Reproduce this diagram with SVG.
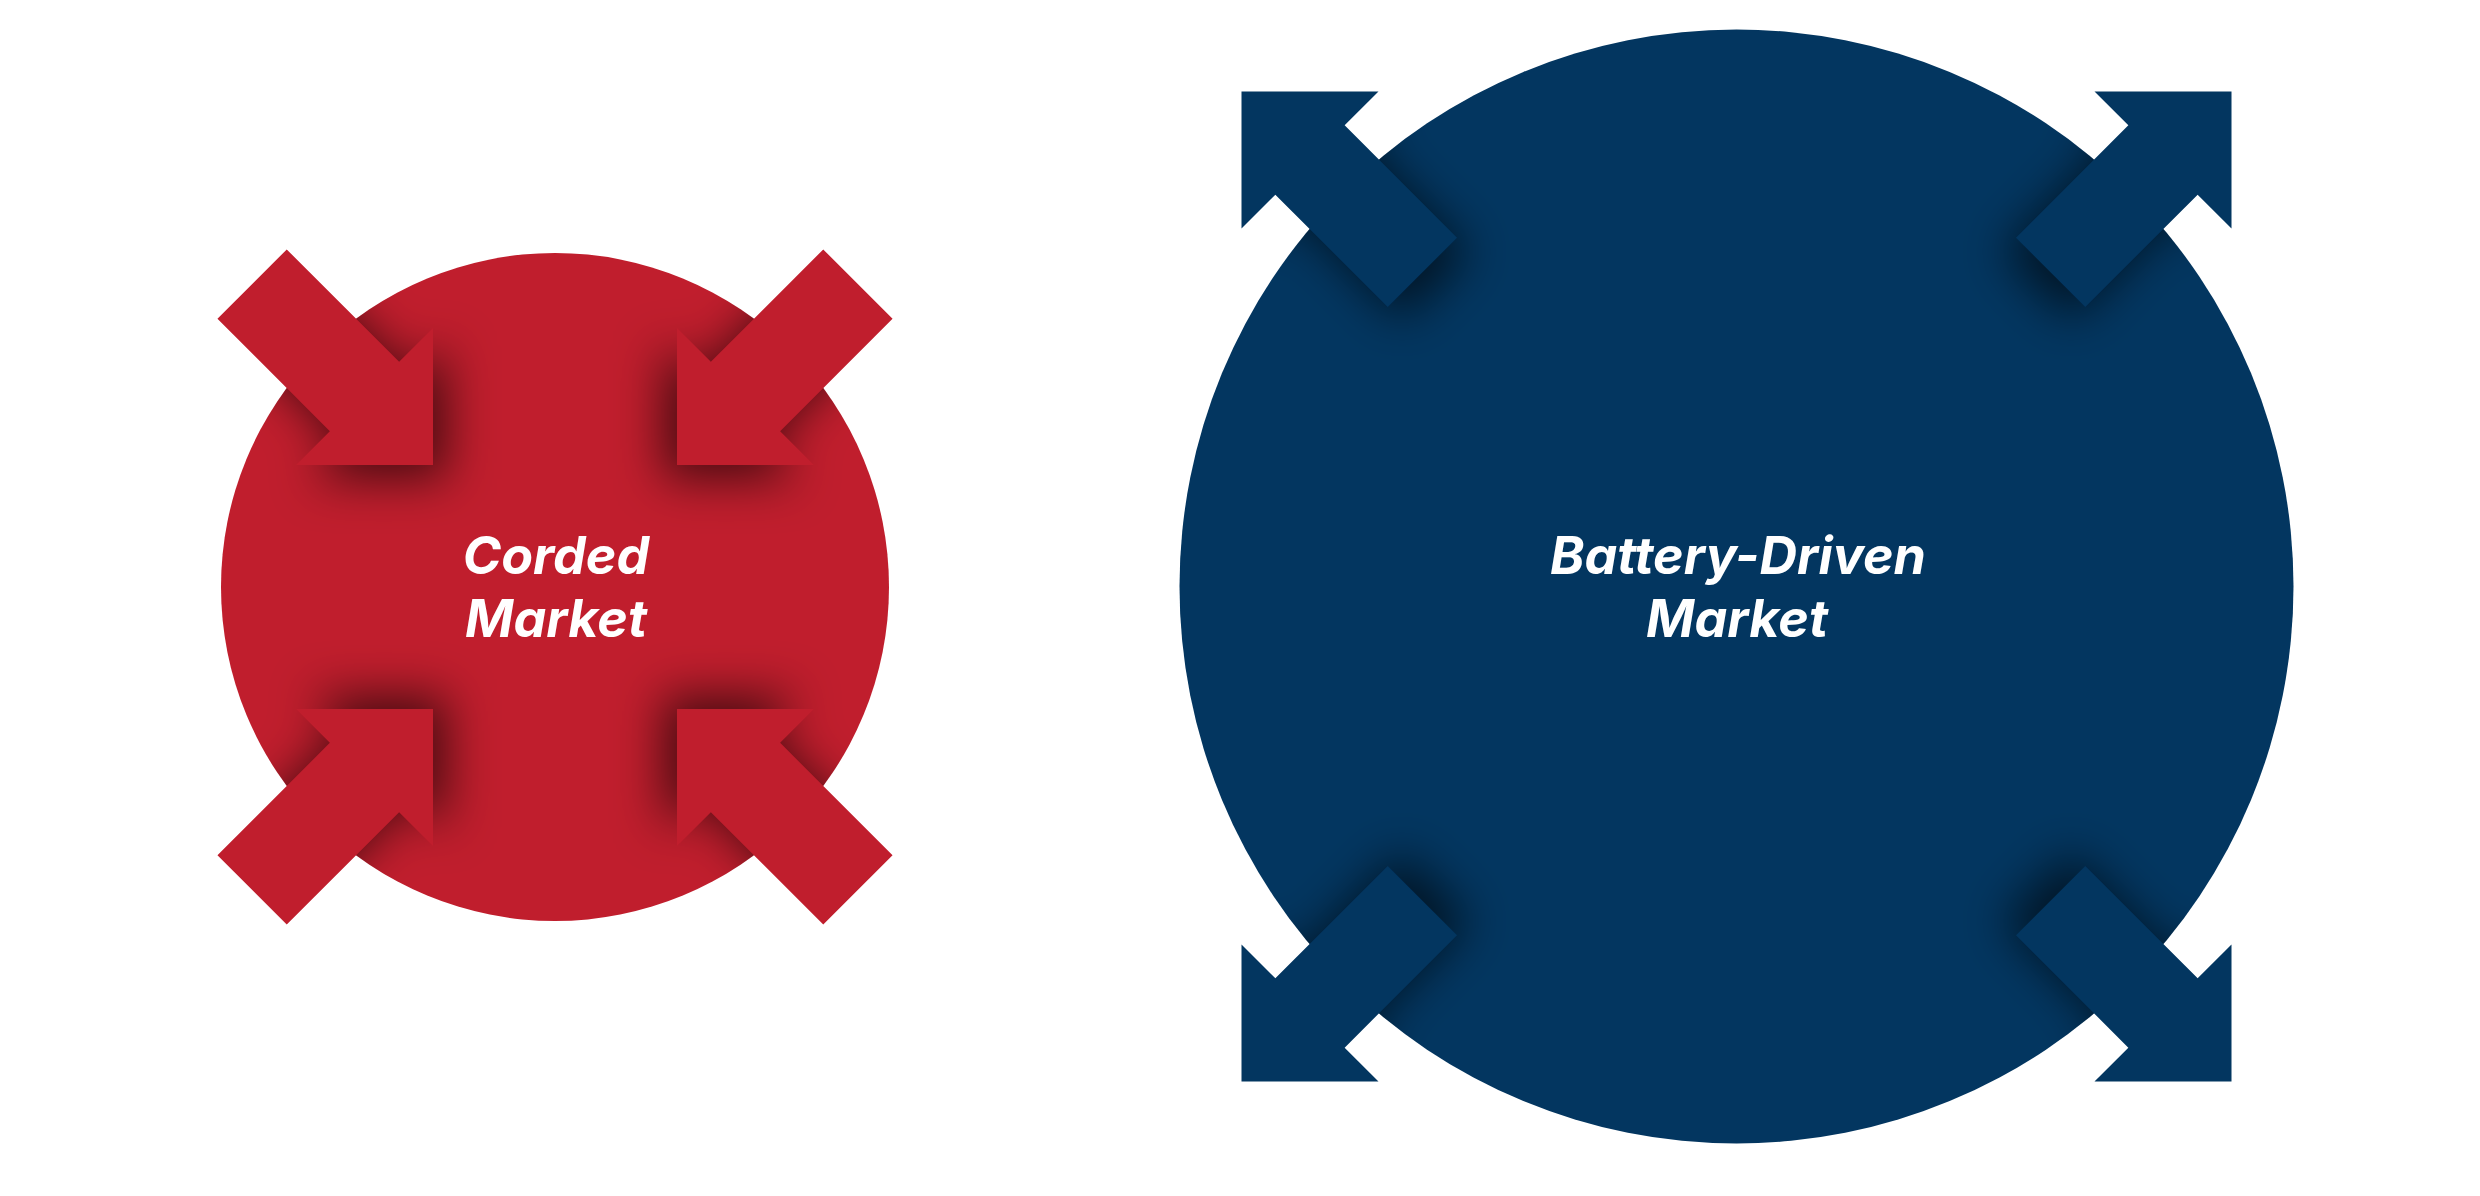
<svg xmlns="http://www.w3.org/2000/svg" xmlns:xlink="http://www.w3.org/1999/xlink" width="2480" height="1196" viewBox="0 0 2480 1196">
  <style>
    .red { fill: #C01E2D; }
    .blue { fill: #033660; }
    .shadow { fill: #000000; fill-opacity: 0.62; filter: url(#blur); }
    .label { font-family: Inter, "Open Sans", "Liberation Sans", sans-serif; font-size: 52px; font-weight: 700; font-style: italic; fill: #FFFFFF; text-anchor: middle; }
  </style>
  <defs>
    <path id="arrow" d="M0,0 L0,-137 L-33.85,-103.15 L-146.25,-215.55 L-215.55,-146.25 L-103.15,-33.85 L-137,0 Z"/>
    <filter id="blur" x="-80%" y="-80%" width="260%" height="260%">
      <feGaussianBlur stdDeviation="24"/>
    </filter>
    <clipPath id="clipRed"><circle cx="555" cy="587" r="334"/></clipPath>
    <clipPath id="clipBlue"><circle cx="1736.5" cy="586.5" r="557"/></clipPath>
  </defs>

  <rect width="2480" height="1196" fill="#FFFFFF"/>

  <g id="corded-market">
    <circle class="red" cx="555" cy="587" r="334"/>
    <g clip-path="url(#clipRed)">
      <use xlink:href="#arrow" class="shadow" transform="translate(447,479)"/>
      <use xlink:href="#arrow" class="shadow" transform="translate(663,479) scale(-1,1)"/>
      <use xlink:href="#arrow" class="shadow" transform="translate(447,695) scale(1,-1)"/>
      <use xlink:href="#arrow" class="shadow" transform="translate(663,695) scale(-1,-1)"/>
    </g>
    <g id="corded-arrows">
      <use xlink:href="#arrow" class="red" transform="translate(433,465)"/>
      <use xlink:href="#arrow" class="red" transform="translate(677,465) scale(-1,1)"/>
      <use xlink:href="#arrow" class="red" transform="translate(433,709) scale(1,-1)"/>
      <use xlink:href="#arrow" class="red" transform="translate(677,709) scale(-1,-1)"/>
    </g>
    <text class="label" x="556" y="574">Corded</text>
    <text class="label" x="556" y="637">Market</text>
  </g>

  <g id="battery-driven-market">
    <circle class="blue" cx="1736.5" cy="586.5" r="557"/>
    <g clip-path="url(#clipBlue)">
      <use xlink:href="#arrow" class="shadow" transform="translate(1255.5,105.5) scale(-1,-1)"/>
      <use xlink:href="#arrow" class="shadow" transform="translate(2217.5,105.5) scale(1,-1)"/>
      <use xlink:href="#arrow" class="shadow" transform="translate(1255.5,1067.5) scale(-1,1)"/>
      <use xlink:href="#arrow" class="shadow" transform="translate(2217.5,1067.5)"/>
    </g>
    <g id="battery-arrows">
      <use xlink:href="#arrow" class="blue" transform="translate(1241.5,91.5) scale(-1,-1)"/>
      <use xlink:href="#arrow" class="blue" transform="translate(2231.5,91.5) scale(1,-1)"/>
      <use xlink:href="#arrow" class="blue" transform="translate(1241.5,1081.5) scale(-1,1)"/>
      <use xlink:href="#arrow" class="blue" transform="translate(2231.5,1081.5)"/>
    </g>
    <text class="label" x="1738" y="574">Battery-Driven</text>
    <text class="label" x="1737" y="637">Market</text>
  </g>

  <g id="connectors"/>
</svg>
